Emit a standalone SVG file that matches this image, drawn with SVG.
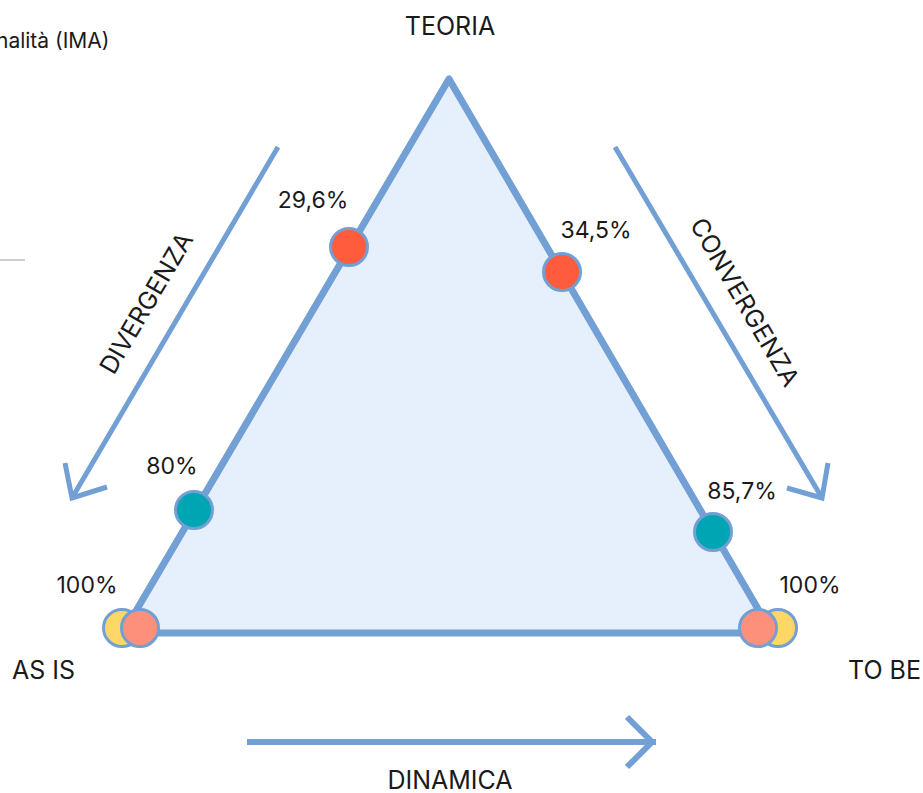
<svg xmlns="http://www.w3.org/2000/svg" width="923" height="793" viewBox="0 0 923 793">
<style>
.t{font-family:Inter,"Liberation Sans",sans-serif;fill:#1a1a1a}
.lbl{font-size:25px}
.pct{font-size:23px}
.ar{fill:none;stroke:#729fd4;stroke-width:5;stroke-linecap:butt;stroke-linejoin:miter}
.dot{stroke:#729fd4;stroke-width:3}
</style>
<rect width="923" height="793" fill="#ffffff"/>
<text class="t" x="-4" y="48" font-size="21">nalità (IMA)</text>
<line x1="0" y1="260" x2="25" y2="260" stroke="#bdbdbd" stroke-width="1.5"/>
<g id="triangle">
<polygon points="449,79 123,633 772,633" fill="#e6f0fd" stroke="#729fd4" stroke-width="7" stroke-linejoin="round"/>
</g>
<g id="connectors">
<polyline class="ar" points="278,147 72,498"/>
<polyline class="ar" points="65,463 72,498 107,487"/>
<polyline class="ar" points="615,147 822,498"/>
<polyline class="ar" points="828,463 822,498 787,488"/>
<polyline class="ar" points="247,742 656,742" style="stroke-width:6"/>
<polyline class="ar" points="627,717 652,742 627,767" style="stroke-width:6"/>
</g>
<g id="label-divergenza"><text class="t lbl" transform="translate(146,303) rotate(-59.6)" text-anchor="middle" dominant-baseline="central">DIVERGENZA</text></g>
<g id="label-convergenza"><text class="t lbl" transform="translate(745,302) rotate(59.6)" text-anchor="middle" dominant-baseline="central">CONVERGENZA</text></g>
<g id="node-teoria"><text class="t lbl" x="450" y="35" text-anchor="middle">TEORIA</text></g>
<g id="node-asis"><text class="t lbl" x="12" y="679">AS IS</text></g>
<g id="node-tobe"><text class="t lbl" x="848" y="679">TO BE</text></g>
<g id="node-dinamica"><text class="t lbl" x="450" y="789" text-anchor="middle">DINAMICA</text></g>
<g id="dot-296"><circle class="dot" cx="349" cy="247" r="18.5" fill="#ff5c3d"/><text class="t pct" x="313" y="208" text-anchor="middle">29,6%</text></g>
<g id="dot-345"><circle class="dot" cx="562" cy="272" r="18.5" fill="#ff5c3d"/><text class="t pct" x="596" y="238" text-anchor="middle">34,5%</text></g>
<g id="dot-80"><circle class="dot" cx="194" cy="510" r="18.5" fill="#00a5b3"/><text class="t pct" x="172" y="474" text-anchor="middle">80%</text></g>
<g id="dot-857"><circle class="dot" cx="713" cy="532" r="18.5" fill="#00a5b3"/><text class="t pct" x="742" y="499" text-anchor="middle">85,7%</text></g>
<g id="dot-asis"><circle class="dot" cx="122" cy="628" r="18.5" fill="#ffd766"/><circle class="dot" cx="140" cy="628" r="18.5" fill="#fd907b"/><text class="t pct" x="87" y="593" text-anchor="middle">100%</text></g>
<g id="dot-tobe"><circle class="dot" cx="778" cy="628" r="18.5" fill="#ffd766"/><circle class="dot" cx="758" cy="628" r="18.5" fill="#fd907b"/><text class="t pct" x="810" y="593" text-anchor="middle">100%</text></g>
</svg>
